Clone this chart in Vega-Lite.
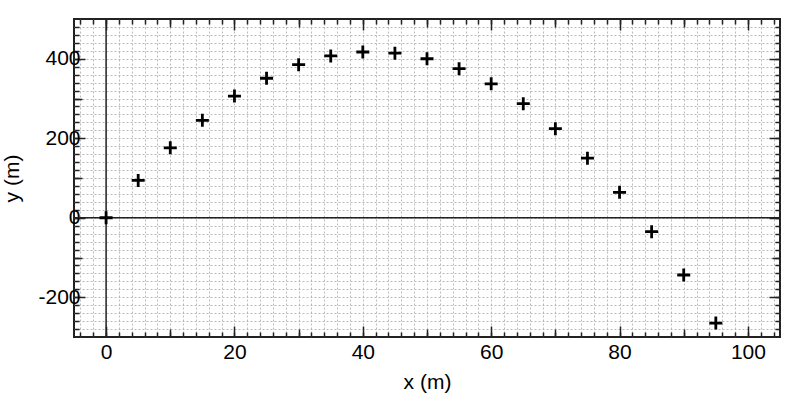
{
  "$schema": "https://vega.github.io/schema/vega-lite/v6.json",
  "width": 706,
  "height": 318,
  "autosize": "none",
  "padding": {"left": 74, "top": 19, "right": 20, "bottom": 63},
  "background": "white",
  "config": {
    "view": {"stroke": "#222", "strokeWidth": 2},
    "axis": {
      "domain": false,
      "labels": false,
      "grid": false,
      "ticks": true,
      "tickColor": "#222",
      "tickWidth": 1.5,
      "title": null,
      "labelFont": "Liberation Sans",
      "titleFont": "Liberation Sans",
      "labelFontSize": 21,
      "titleFontSize": 21,
      "labelColor": "#000",
      "titleColor": "#000",
      "titleFontWeight": "normal"
    }
  },
  "data": {
    "values": [
      {"x": 0, "y": 0}, {"x": 5, "y": 94}, {"x": 10, "y": 176}, {"x": 15, "y": 245},
      {"x": 20, "y": 306}, {"x": 25, "y": 351}, {"x": 30, "y": 385}, {"x": 35, "y": 407},
      {"x": 40, "y": 417}, {"x": 45, "y": 414}, {"x": 50, "y": 400}, {"x": 55, "y": 375},
      {"x": 60, "y": 337}, {"x": 65, "y": 287}, {"x": 70, "y": 224}, {"x": 75, "y": 150},
      {"x": 80, "y": 64}, {"x": 85, "y": -35}, {"x": 90, "y": -144}, {"x": 95, "y": -265}
    ]
  },
  "resolve": {"axis": {"x": "independent", "y": "independent"}},
  "layer": [
    {
      "mark": {"type": "point", "opacity": 0},
      "encoding": {
        "x": {"field": "x", "type": "quantitative", "scale": {"domain": [-5, 105], "nice": false, "zero": false},
          "axis": {"orient": "bottom", "values": [-4,-2,0,2,4,6,8,10,12,14,16,18,20,22,24,26,28,30,32,34,36,38,40,42,44,46,48,50,52,54,56,58,60,62,64,66,68,70,72,74,76,78,80,82,84,86,88,90,92,94,96,98,100,102,104],
            "grid": true, "gridDash": [2, 2], "gridColor": "#aaa", "gridWidth": 0.8, "tickSize": -5}},
        "y": {"field": "y", "type": "quantitative", "scale": {"domain": [-300, 500], "nice": false, "zero": false},
          "axis": {"orient": "left", "values": [-280,-260,-240,-220,-200,-180,-160,-140,-120,-100,-80,-60,-40,-20,0,20,40,60,80,100,120,140,160,180,200,220,240,260,280,300,320,340,360,380,400,420,440,460,480],
            "grid": true, "gridDash": [2, 2], "gridColor": "#aaa", "gridWidth": 0.8, "tickSize": -5}}
      }
    },
    {
      "mark": {"type": "point", "opacity": 0},
      "encoding": {
        "x": {"field": "x", "type": "quantitative", "scale": {"domain": [-5, 105], "nice": false, "zero": false},
          "axis": {"orient": "top", "values": [-4,-2,0,2,4,6,8,10,12,14,16,18,20,22,24,26,28,30,32,34,36,38,40,42,44,46,48,50,52,54,56,58,60,62,64,66,68,70,72,74,76,78,80,82,84,86,88,90,92,94,96,98,100,102,104], "tickSize": -5}},
        "y": {"field": "y", "type": "quantitative", "scale": {"domain": [-300, 500], "nice": false, "zero": false},
          "axis": {"orient": "right", "values": [-280,-260,-240,-220,-200,-180,-160,-140,-120,-100,-80,-60,-40,-20,0,20,40,60,80,100,120,140,160,180,200,220,240,260,280,300,320,340,360,380,400,420,440,460,480], "tickSize": -5}}
      }
    },
    {
      "mark": {"type": "point", "opacity": 0},
      "encoding": {
        "x": {"field": "x", "type": "quantitative", "scale": {"domain": [-5, 105], "nice": false, "zero": false},
          "axis": {"orient": "bottom", "values": [10, 30, 50, 70, 90], "tickSize": -8}},
        "y": {"field": "y", "type": "quantitative", "scale": {"domain": [-300, 500], "nice": false, "zero": false},
          "axis": {"orient": "left", "values": [-100, 100, 300], "tickSize": -8}}
      }
    },
    {
      "mark": {"type": "point", "opacity": 0},
      "encoding": {
        "x": {"field": "x", "type": "quantitative", "scale": {"domain": [-5, 105], "nice": false, "zero": false},
          "axis": {"orient": "top", "values": [10, 30, 50, 70, 90], "tickSize": -8}},
        "y": {"field": "y", "type": "quantitative", "scale": {"domain": [-300, 500], "nice": false, "zero": false},
          "axis": {"orient": "right", "values": [-100, 100, 300], "tickSize": -8}}
      }
    },
    {
      "mark": {"type": "point", "opacity": 0},
      "encoding": {
        "x": {"field": "x", "type": "quantitative", "scale": {"domain": [-5, 105], "nice": false, "zero": false},
          "axis": {"orient": "top", "values": [0, 20, 40, 60, 80, 100], "tickSize": -11}},
        "y": {"field": "y", "type": "quantitative", "scale": {"domain": [-300, 500], "nice": false, "zero": false},
          "axis": {"orient": "right", "values": [-200, 0, 200, 400], "tickSize": -11}}
      }
    },
    {
      "data": {"values": [{}]},
      "mark": {"type": "rule", "color": "#222", "strokeWidth": 1.5},
      "encoding": {"x": {"datum": 0, "type": "quantitative", "scale": {"domain": [-5, 105], "nice": false, "zero": false}, "axis": null}}
    },
    {
      "data": {"values": [{}]},
      "mark": {"type": "rule", "color": "#222", "strokeWidth": 1.5},
      "encoding": {"y": {"datum": 0, "type": "quantitative", "scale": {"domain": [-300, 500], "nice": false, "zero": false}, "axis": null}}
    },
    {
      "mark": {"type": "point", "shape": "M-1,0H1M0,-1V1", "filled": false, "stroke": "#000", "strokeWidth": 2.8, "size": 169, "opacity": 1},
      "encoding": {
        "x": {"field": "x", "type": "quantitative", "scale": {"domain": [-5, 105], "nice": false, "zero": false},
          "axis": {"orient": "bottom", "values": [0, 20, 40, 60, 80, 100], "tickSize": -11, "labels": true, "labelPadding": 15, "title": "x (m)", "titlePadding": 9}},
        "y": {"field": "y", "type": "quantitative", "scale": {"domain": [-300, 500], "nice": false, "zero": false},
          "axis": {"orient": "left", "values": [-200, 0, 200, 400], "tickSize": -11, "labels": true, "labelPadding": 5, "labelExpr": "'' + datum.value", "title": "y (m)", "titlePadding": 15}}
      }
    }
  ]
}
